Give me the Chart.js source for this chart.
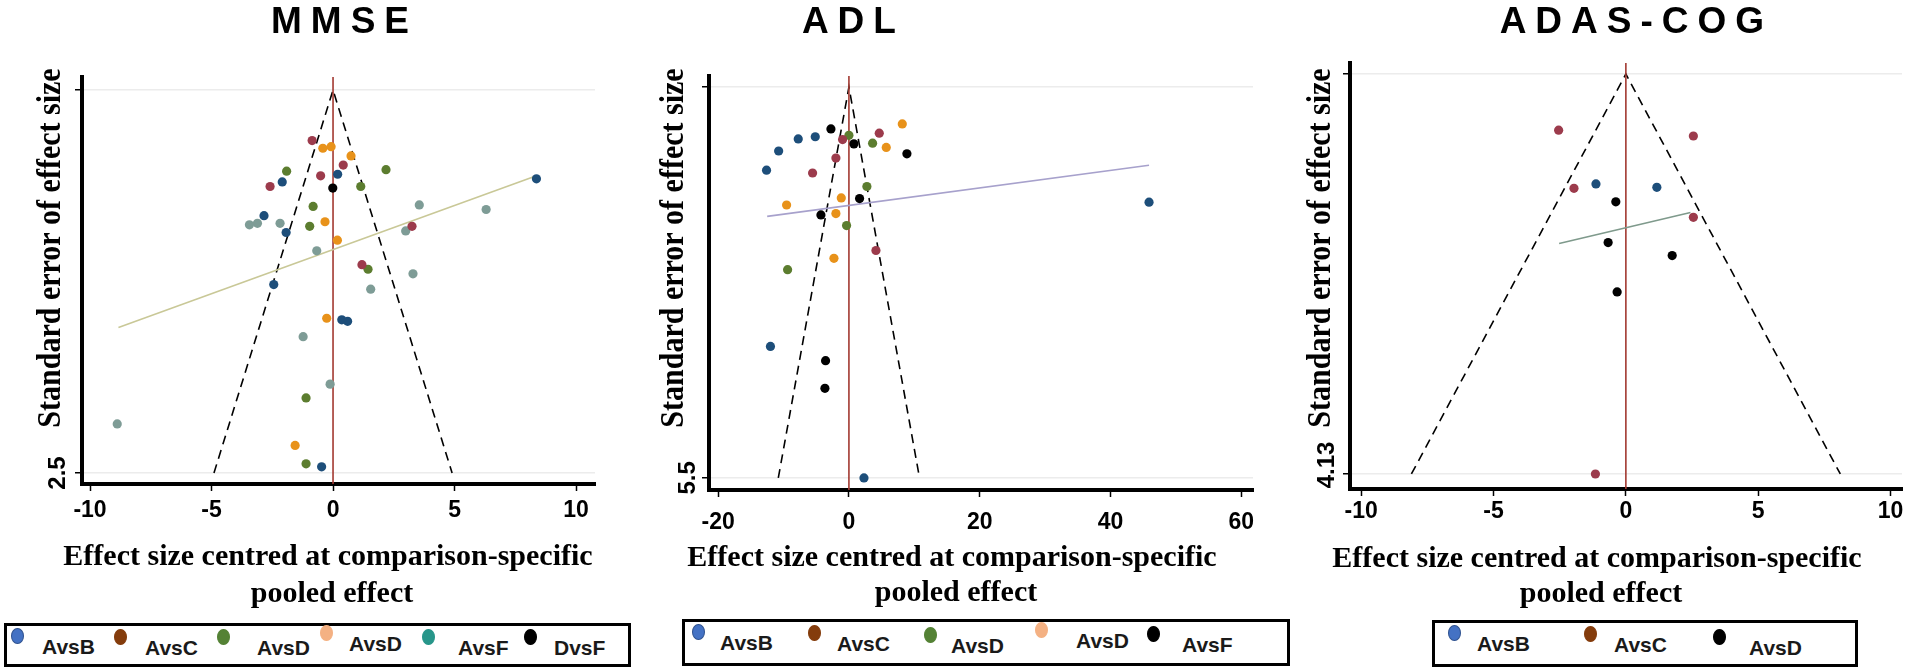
<!DOCTYPE html>
<html>
<head>
<meta charset="utf-8">
<script src="https://cdn.jsdelivr.net/npm/chart.js@4.4.1/dist/chart.umd.min.js"></script>
<style>
  html, body { margin: 0; padding: 0; background: #fff; }
  #page { position: relative; width: 1907px; height: 671px; overflow: hidden; }
  .panel { position: absolute; top: 0; height: 615px; }
  .legend { position: absolute; box-sizing: border-box; border: 3px solid #000; background: #fff; }
  .legend .dot { position: absolute; width: 13px; height: 16px; border-radius: 50%; box-sizing: border-box; }
  .legend .lab { position: absolute; font: bold 21px "Liberation Sans", Arial, sans-serif; color: #1a1a1a; line-height: 21px; }
</style>
</head>
<body>
<div id="page">
  <canvas id="mmse" class="panel" style="left:0px" width="640" height="615"></canvas>
  <canvas id="adl" class="panel" style="left:640px" width="650" height="615"></canvas>
  <canvas id="adas" class="panel" style="left:1290px" width="617" height="615"></canvas>
  <div id="leg-mmse" class="legend" style="left:4px;top:623px;width:627px;height:44px"></div>
  <div id="leg-adl" class="legend" style="left:682px;top:619px;width:608px;height:47px"></div>
  <div id="leg-adas" class="legend" style="left:1432px;top:620px;width:426px;height:47px"></div>
</div>
<script>
// ---- MMSE : [effect size centred, standard error]
const mmseAvsB = [[0.19,0.55],[-2.09,0.60],[-2.84,0.82],[-1.93,0.93],[-2.44,1.27],[0.36,1.50],[0.60,1.51],[-0.47,2.46],[8.37,0.58]];
const mmseAvsC = [[-0.86,0.33],[0.42,0.49],[-0.51,0.56],[-2.59,0.63],[3.25,0.89],[1.19,1.14]];
const mmseAvsD = [[-1.91,0.53],[2.18,0.52],[1.14,0.63],[-0.82,0.76],[-0.96,0.89],[1.44,1.17],[-1.11,2.01],[-1.11,2.44]];
const mmseAvsD2 = [[-0.42,0.38],[-0.08,0.37],[0.74,0.43],[-0.33,0.86],[0.18,0.98],[-0.26,1.49],[-1.56,2.32]];
const mmseAvsF = [[-3.44,0.88],[-3.11,0.87],[-2.18,0.87],[-0.67,1.05],[3.55,0.75],[2.99,0.92],[3.29,1.20],[1.55,1.30],[6.30,0.78],[-1.23,1.61],[-0.12,1.92],[-8.88,2.18]];
const mmseDvsF = [[-0.01,0.64]];
const mmseFit = [[-8.83,1.55],[8.37,0.56]];
const mmseFunnel = [[-4.9,2.5],[0,0],[4.9,2.5]];
const mmseXTicks = [-10,-5,0,5,10];
const mmseSeTicks = [0,2.5];
const mmseSeLabel = '2.5';

// ---- ADL
const adlAvsB = [[-12.6,1.17],[-10.75,0.90],[-7.75,0.73],[-5.15,0.70],[-12.0,3.65],[2.3,5.5],[45.9,1.62]];
const adlAvsC = [[-0.97,0.74],[4.64,0.65],[-1.99,1.00],[-5.56,1.21],[4.13,2.30]];
const adlAvsD = [[0,0.68],[3.62,0.79],[2.75,1.40],[-0.36,1.95],[-9.38,2.57]];
const adlAvsD2 = [[8.16,0.52],[5.71,0.85],[-9.53,1.66],[-1.17,1.56],[-1.99,1.78],[-2.29,2.41]];
const adlAvsF = [[-2.75,0.59],[0.76,0.80],[8.87,0.94],[1.63,1.57],[-4.28,1.80],[-3.57,3.85],[-3.67,4.24]];
const adlFit = [[-12.5,1.82],[45.9,1.10]];
const adlFunnel = [[-10.8,5.5],[0,0],[10.8,5.5]];
const adlXTicks = [-20,0,20,40,60];
const adlSeTicks = [0,5.5];
const adlSeLabel = '5.5';

// ---- ADAS-COG
const adasAvsB = [[-1.13,1.135],[1.17,1.17]];
const adasAvsC = [[-2.54,0.58],[2.55,0.64],[-1.96,1.18],[2.55,1.48],[-1.15,4.13]];
const adasAvsD = [[-0.38,1.32],[-0.67,1.74],[1.75,1.875],[-0.33,2.25]];
const adasFit = [[-2.52,1.75],[2.44,1.43]];
const adasFunnel = [[-8.1,4.13],[0,0],[8.1,4.13]];
const adasXTicks = [-10,-5,0,5,10];
const adasSeTicks = [0,4.13];
const adasSeLabel = '4.13';

// legend entries
const mmseLegend = ['AvsB','AvsC','AvsD','AvsD','AvsF','DvsF'];
const adlLegend = ['AvsB','AvsC','AvsD','AvsD','AvsF'];
const adasLegend = ['AvsB','AvsC','AvsD'];

const C = {
  navy: '#1d4e7a', maroon: '#9c3b4c', green: '#5c7d2f', orange: '#e8921a',
  grey: '#7e9c96', black: '#000000', red: '#a33a32'
};
const SERIF = '"Liberation Serif", "Times New Roman", serif';
const SANS = '"Liberation Sans", Arial, sans-serif';
const XAXIS_H = 50;   // room kept for the x tick labels

const toXY = arr => arr.map(p => ({ x: p[0], y: p[1] }));

function pts(data, color) {
  return { data: toXY(data), backgroundColor: color, borderColor: color, borderWidth: 0,
           pointRadius: 4.6, showLine: false, order: 0 };
}
function line(data, color, width, dash) {
  return { data: toXY(data), borderColor: color, borderWidth: width, borderDash: dash || [],
           pointRadius: 0, showLine: true, fill: false, tension: 0, order: 1 };
}

// draws titles and rotated labels, positioned from the chart's own scales
const panelText = {
  id: 'panelText',
  afterDraw(chart, args, o) {
    const ctx = chart.ctx;
    const xs = chart.scales.x, ys = chart.scales.y;
    ctx.save();
    ctx.fillStyle = '#000';

    // panel title above the zero line
    ctx.font = 'bold 37px ' + SANS;
    ctx.textAlign = 'center';
    ctx.textBaseline = 'alphabetic';
    if ('letterSpacing' in ctx) ctx.letterSpacing = '9px';
    ctx.fillText(o.title, xs.getPixelForValue(0) + o.titleDx + 4.5, 33);
    if ('letterSpacing' in ctx) ctx.letterSpacing = '0px';

    // y axis title
    ctx.save();
    ctx.translate(o.yTitleX, 248);
    ctx.rotate(-Math.PI / 2);
    ctx.scale(1, 1.15);
    ctx.font = 'bold 30px ' + SERIF;
    ctx.fillText('Standard error of effect size', 0, 0);
    ctx.restore();

    // label of the lowest y tick
    ctx.save();
    ctx.translate(o.seLabelX, ys.getPixelForValue(o.seValue) + o.seLabelDy);
    ctx.rotate(-Math.PI / 2);
    ctx.font = 'bold 24px ' + SANS;
    ctx.fillText(o.seLabel, 0, 0);
    ctx.restore();

    // x axis title, two lines
    ctx.font = 'bold 30px ' + SERIF;
    ctx.fillText('Effect size centred at comparison-specific', o.xTitleX, o.xTitleY[0]);
    ctx.fillText('pooled effect', o.xTitleX + 4, o.xTitleY[1]);
    ctx.restore();
  }
};

function makePanel(id, sets, xTicks, seTicks, range, pad, tickPad, text) {
  const zero = [[0, range.y[0]], [0, range.y[1]]];
  new Chart(document.getElementById(id), {
    type: 'scatter',
    data: {
      datasets: sets.concat([
        line(sets.fit, sets.fitColor, 1.6),
        line(zero, C.red, 1.6),
        line(sets.funnel, '#000', 1.6, [9, 6])
      ])
    },
    options: {
      responsive: false,
      animation: false,
      layout: { padding: pad },
      plugins: { legend: { display: false }, tooltip: { enabled: false }, panelText: text },
      scales: {
        x: {
          type: 'linear', min: range.x[0], max: range.x[1],
          afterFit: s => { s.height = XAXIS_H; },
          afterBuildTicks: s => { s.ticks = xTicks.map(v => ({ value: v })); },
          grid: { drawOnChartArea: false, drawTicks: true, tickLength: 7, tickColor: '#000', tickWidth: 1.5 },
          border: { display: true, color: '#000', width: 4 },
          ticks: { color: '#000', padding: tickPad, maxRotation: 0, autoSkip: false,
                   font: { family: SANS, size: 23, weight: 'bold' } }
        },
        y: {
          type: 'linear', reverse: true, min: range.y[0], max: range.y[1],
          afterFit: s => { s.width = 0; },
          afterBuildTicks: s => { s.ticks = seTicks.map(v => ({ value: v })); },
          grid: { color: '#ececec', lineWidth: 1.5, tickColor: '#000', tickLength: 7, tickWidth: 1.5 },
          border: { display: true, color: '#000', width: 4 },
          ticks: { display: false }
        }
      }
    },
    plugins: [panelText]
  });
}

function withExtras(arr, fit, fitColor, funnel) {
  arr.fit = fit; arr.fitColor = fitColor; arr.funnel = funnel;
  return arr;
}

makePanel('mmse',
  withExtras([pts(mmseDvsF, C.black), pts(mmseAvsB, C.navy), pts(mmseAvsC, C.maroon), pts(mmseAvsD, C.green),
              pts(mmseAvsD2, C.orange), pts(mmseAvsF, C.grey)], mmseFit, '#c9c897', mmseFunnel),
  mmseXTicks, mmseSeTicks,
  { x: [-10.33, 10.78], y: [-0.085, 2.572] },
  { left: 82, right: 45, top: 77, bottom: 131 - XAXIS_H }, 6,
  { title: 'MMSE', titleDx: 7, yTitleX: 60, seLabelX: 65, seLabelDy: 0, seValue: 2.5, seLabel: mmseSeLabel,
    xTitleX: 328, xTitleY: [565, 602] });

makePanel('adl',
  withExtras([pts(adlAvsF, C.black), pts(adlAvsB, C.navy), pts(adlAvsC, C.maroon), pts(adlAvsD, C.green),
              pts(adlAvsD2, C.orange)], adlFit, '#a7a1cc', adlFunnel),
  adlXTicks, adlSeTicks,
  { x: [-21.4, 61.8], y: [-0.155, 5.67] },
  { left: 69, right: 37, top: 76, bottom: 125 - XAXIS_H }, 12,
  { title: 'ADL', titleDx: 0, yTitleX: 43, seLabelX: 55, seLabelDy: 0, seValue: 5.5, seLabel: adlSeLabel,
    xTitleX: 312, xTitleY: [566, 601] });

makePanel('adas',
  withExtras([pts(adasAvsD, C.black), pts(adasAvsB, C.navy), pts(adasAvsC, C.maroon)], adasFit, '#7f9a8c', adasFunnel),
  adasXTicks, adasSeTicks,
  { x: [-10.42, 10.43], y: [-0.114, 4.285] },
  { left: 60, right: 5, top: 63, bottom: 126 - XAXIS_H }, 2,
  { title: 'ADAS-COG', titleDx: 6, yTitleX: 40, seLabelX: 44, seLabelDy: -9, seValue: 4.13, seLabel: adasSeLabel,
    xTitleX: 307, xTitleY: [567, 602] });

// html legends under each panel
function buildLegend(id, labels, colors, dotX, labX, dy) {
  const box = document.getElementById(id);
  const left = box.offsetLeft + 3;
  labels.forEach((lab, i) => {
    const d = document.createElement('div');
    d.className = 'dot';
    d.style.background = colors[i];
    d.style.border = '1px solid ' + (colors[i] === '#4472c4' ? '#2f528f' : colors[i]);
    d.style.left = (dotX[i] - left - 6.5) + 'px';
    d.style.top = (2 + (dy[i] || 0)) + 'px';
    box.appendChild(d);
    const s = document.createElement('span');
    s.className = 'lab';
    s.textContent = lab;
    s.style.left = (labX[i] - left) + 'px';
    s.style.top = (10 + (dy[i] || 0)) + 'px';
    box.appendChild(s);
  });
}
buildLegend('leg-mmse', mmseLegend,
  ['#4472c4', '#843c0c', '#548235', '#f4b183', '#27968a', '#000'],
  [17, 120, 223, 326, 428, 530], [42, 145, 257, 349, 458, 554], [0, 1, 1, -3, 1, 1]);
buildLegend('leg-adl', adlLegend,
  ['#4472c4', '#843c0c', '#548235', '#f4b183', '#000'],
  [698, 814, 930, 1041, 1153], [720, 837, 951, 1076, 1182], [0, 1, 3, -2, 2]);
buildLegend('leg-adas', adasLegend,
  ['#4472c4', '#843c0c', '#000'],
  [1454, 1590, 1719], [1477, 1614, 1749], [0, 1, 4]);
</script>
</body>
</html>
